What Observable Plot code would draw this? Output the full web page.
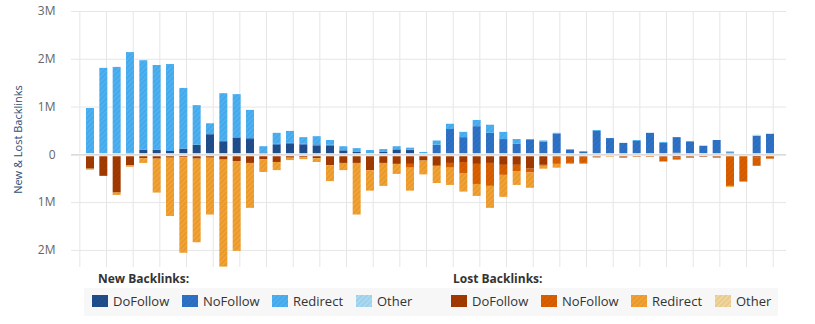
<!DOCTYPE html>
<html>
<head>
<meta charset="utf-8">
<script src="https://cdn.jsdelivr.net/npm/d3@7"></script>
<script src="https://cdn.jsdelivr.net/npm/@observablehq/plot@0.6"></script>
<style>
  html, body { margin: 0; padding: 0; background: #fff; }
  body { font-family: "Open Sans", sans-serif; }
  #wrap { position: relative; width: 815px; height: 324px; }
  .lt { position: absolute; font-size: 12px; font-weight: bold; color: #333; line-height: 16px; top: 271px; }
  #band { position: absolute; left: 84px; top: 288px; width: 694px; height: 28px; background: #f7f7f7; }
  .sw { position: absolute; top: 295px; width: 16px; height: 12px; }
  .lx { position: absolute; top: 292px; font-size: 13px; line-height: 18px; color: #333; white-space: nowrap; }
</style>
</head>
<body>
<div id="wrap">
<svg width="0" height="0" style="position:absolute" id="defs"></svg>
<div id="chart"></div>
<div id="legend"></div>
</div>
<script>
// ---- data (millions), one value per weekly bar ----
const weeks = d3.range(52);
const newDoFollow = [0,0,0,0.03,0.1,0.1,0.07,0.12,0.2,0.42,0.26,0.35,0.32,0.04,0.2,0.22,0.2,0.18,0.18,0.08,0.05,0,0.05,0.1,0.09,0,0,0,0,0,0,0,0,0,0,0,0,0,0,0,0,0,0,0,0.04,0,0.02,0,0.04,0,0,0];
const newNoFollow = [0,0,0,0,0,0,0,0,0,0.02,0.02,0.01,0.02,0,0.02,0.02,0.02,0.03,0.02,0.01,0,0,0,0.01,0.01,0,0.2,0.53,0.36,0.59,0.45,0.32,0.22,0.3,0.27,0.43,0.1,0.06,0.49,0.34,0.24,0.28,0.45,0.24,0.32,0.26,0.16,0.3,0,0,0.39,0.43];
const newRedirect = [0.97,1.81,1.83,2.11,1.87,1.77,1.82,1.27,0.83,0.21,1.0,0.9,0.59,0.13,0.23,0.25,0.14,0.17,0.1,0.08,0.08,0.09,0.06,0.06,0.04,0.05,0.09,0.11,0.11,0.13,0.17,0.15,0.1,0.02,0.02,0.02,0.01,0.01,0.02,0,0,0.02,0,0.02,0,0.02,0,0,0.02,0,0,0];
const newOther = [0,0,0,0,0,0,0,0,0,0,0,0,0,0,0,0,0,0,0,0,0,0,0,0,0,0,0,0,0,0,0,0,0,0,0,0,0,0,0,0,0,0,0,0,0,0,0,0,0,0,0.02,0];
const lostDoFollow = [0.3,0.45,0.8,0.23,0.08,0.09,0.07,0.06,0.09,0.07,0.11,0.14,0.18,0.1,0.16,0.07,0.06,0.08,0.23,0.18,0.18,0.33,0.18,0.2,0.2,0.13,0.24,0.18,0.16,0.2,0.18,0.22,0.22,0.3,0.22,0.05,0.05,0.05,0.05,0,0.05,0,0,0.05,0.06,0.05,0.05,0.05,0,0,0.07,0];
const lostNoFollow = [0,0,0,0,0,0,0,0,0,0,0,0,0,0,0,0,0,0,0,0,0,0,0,0,0.08,0,0,0.1,0.23,0.42,0.48,0.21,0.13,0.08,0.02,0.15,0.13,0.13,0,0,0.02,0.05,0.05,0.1,0.05,0.02,0,0.02,0.66,0.57,0.17,0.09];
const lostRedirect = [0.02,0,0.05,0.03,0.1,0.71,1.22,2.0,1.75,1.19,2.24,1.88,0.94,0.27,0.17,0.05,0.04,0.08,0.33,0.15,1.08,0.43,0.48,0.21,0.48,0.29,0.36,0.36,0.39,0.25,0.46,0.46,0.29,0.32,0.06,0.08,0.02,0.02,0.02,0.05,0,0,0,0,0,0,0,0,0.02,0,0,0];
const lostOther = new Array(52).fill(0);

const newKeys = ["DoFollow","NoFollow","Redirect","Other"];
const lostKeys = ["DoFollow","NoFollow","Redirect","Other"];
const newSeries = [newDoFollow, newNoFollow, newRedirect, newOther];
const lostSeries = [lostDoFollow, lostNoFollow, lostRedirect, lostOther];
const newColors = ["#1f4f8e", "#2e73c9", "#4cb2f5", "#a9dbf5"];
const lostColors = ["#a33a00", "#dc6000", "#f4a232", "#f3d69a"];
const yTicks = [-2, -1, 0, 1, 2, 3];
const yTickLabels = ["2M", "1M", "0", "1M", "2M", "3M"];

// ---- hatch patterns ----
const defs = d3.select("#defs").append("defs");
function darker(c) { return d3.color(c).darker(0.6).formatHex(); }
function addPattern(id, c) {
  const p = defs.append("pattern").attr("id", id).attr("patternUnits", "userSpaceOnUse")
    .attr("width", 3.6).attr("height", 3.6).attr("patternTransform", "rotate(45)");
  p.append("rect").attr("width", 3.6).attr("height", 3.6).attr("fill", c);
  p.append("line").attr("x1", 1).attr("x2", 1).attr("y1", 0).attr("y2", 3.6)
    .attr("stroke", darker(c)).attr("stroke-opacity", 0.55).attr("stroke-width", 1);
}
newColors.forEach((c, k) => addPattern("pn" + k, c));
lostColors.forEach((c, k) => addPattern("pl" + k, c));

// ---- stacked segments ----
const segs = newSeries.map(() => []);
const lsegs = lostSeries.map(() => []);
for (const i of weeks) {
  let up = 0;
  newSeries.forEach((s, k) => { const v = s[i]; if (v > 0) segs[k].push({i, y1: up, y2: up + v}); up += v; });
  let dn = 0;
  lostSeries.forEach((s, k) => { const v = s[i]; if (v > 0) lsegs[k].push({i, y1: -dn, y2: -(dn + v)}); dn += v; });
}

const gridX = d3.range(-1, 52, 2).map(i => i + 0.2);
const barMarks = [];
segs.forEach((d, k) => barMarks.push(Plot.rect(d, {x1: r => r.i - 0.3, x2: r => r.i + 0.3, y1: "y1", y2: "y2", fill: "url(#pn" + k + ")"})));
lsegs.forEach((d, k) => barMarks.push(Plot.rect(d, {x1: r => r.i - 0.3, x2: r => r.i + 0.3, y1: "y1", y2: "y2", fill: "url(#pl" + k + ")"})));

const chart = Plot.plot({
  width: 815,
  height: 270,
  marginTop: 11,
  marginBottom: 3,
  marginLeft: 71,
  marginRight: 29,
  style: {fontFamily: "Open Sans, sans-serif", fontSize: "12px", background: "transparent"},
  x: {domain: [-1.425, 52.2], axis: null},
  y: {domain: [-2.358, 3], axis: null},
  marks: [
    Plot.ruleY(yTicks.filter(d => d !== 0), {stroke: "#e6e6e6", strokeWidth: 1}),
    Plot.ruleX(gridX, {stroke: "#e6e6e6", strokeWidth: 1}),
    ...barMarks,
    Plot.ruleY([0], {stroke: "#fff", strokeWidth: 3}),
    Plot.ruleY([0], {stroke: "#cfcfcf", strokeWidth: 1.4}),
    Plot.text(yTicks, {y: d => d, text: (d, i) => yTickLabels[i], frameAnchor: "left", dx: -16, textAnchor: "end", fill: "#666", fontSize: 12}),
    Plot.text(["New & Lost Backlinks"], {frameAnchor: "left", dx: -53, rotate: -90, textAnchor: "middle", fill: "#2f4c74", fontSize: 11})
  ]
});
document.getElementById("chart").appendChild(chart);

// ---- legend ----
const lg = d3.select("#legend");
lg.append("div").attr("class", "lt").style("left", "98px").text("New Backlinks:");
lg.append("div").attr("class", "lt").style("left", "453px").text("Lost Backlinks:");
lg.append("div").attr("id", "band");
const newSwX = [92, 182, 272, 356];
const lostSwX = [451, 541, 631, 715];
function item(x, pid, label) {
  const s = lg.append("svg").attr("class", "sw").style("left", x + "px").attr("width", 16).attr("height", 12);
  s.append("rect").attr("width", 16).attr("height", 12).attr("fill", "url(#" + pid + ")");
  lg.append("div").attr("class", "lx").style("left", (x + 21) + "px").text(label);
}
newKeys.forEach((k, j) => item(newSwX[j], "pn" + j, k));
lostKeys.forEach((k, j) => item(lostSwX[j], "pl" + j, k));
</script>
</body>
</html>
